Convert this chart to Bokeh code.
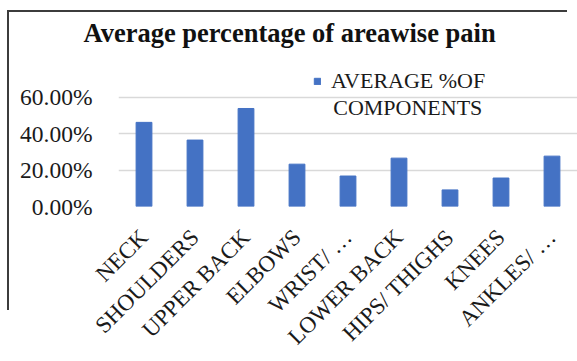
import math

from bokeh.embed import file_html
from bokeh.models import (ColumnDataSource, FactorRange, FixedTicker, InlineStyleSheet,
                          Label, Legend, LegendItem, NumeralTickFormatter, Range1d)
from bokeh.plotting import figure
from bokeh.resources import INLINE

# Body areas and the average share of reported pain for each
areas = ["NECK", "SHOULDERS", "UPPER BACK", "ELBOWS", "WRIST/ \u2026",
         "LOWER BACK", "HIPS/ THIGHS", "KNEES", "ANKLES/ \u2026"]
avg_pct = [0.461, 0.364, 0.537, 0.232, 0.167, 0.265, 0.091, 0.156, 0.276]
y_ticks = [0.0, 0.2, 0.4, 0.6]
title_text = "Average percentage of areawise pain"
series_line1 = "AVERAGE %OF"
series_line2 = "COMPONENTS"

SERIF = "Liberation Serif"
BAR_BLUE = "#4472C4"
TEXT = "#1a1a1a"

src = ColumnDataSource(data=dict(area=areas, pct=avg_pct))

p = figure(width=577, height=361,
           x_range=FactorRange(factors=areas, range_padding=0),
           y_range=Range1d(0, 0.8),
           output_backend="svg", toolbar_location=None,
           min_border_left=118, min_border_right=0,
           min_border_top=60, min_border_bottom=154)
p.background_fill_color = "white"
p.border_fill_color = "white"
p.outline_line_color = None

# Title placed over the whole chart area
p.title.text = title_text
p.title.align = "left"
p.title.offset = -35
p.title.standoff = 25
p.title.text_font = SERIF
p.title.text_font_size = "26.5px"
p.title.text_font_style = "bold"
p.title.text_color = "#111111"

bars = p.vbar(x="area", top="pct", width=0.31, source=src,
              fill_color=BAR_BLUE, line_color=BAR_BLUE)

# Axes: no lines or ticks, serif labels
p.yaxis.ticker = FixedTicker(ticks=y_ticks)
p.yaxis.formatter = NumeralTickFormatter(format="0.00%")
for ax in (p.xaxis, p.yaxis):
    ax.axis_line_color = None
    ax.major_tick_line_color = None
    ax.minor_tick_line_color = None
    ax.major_tick_out = 0
    ax.major_tick_in = 0
    ax.major_label_text_font = SERIF
    ax.major_label_text_color = TEXT
p.yaxis.major_label_text_font_size = "23.5px"
p.xaxis.major_label_text_font_size = "23px"
p.yaxis.major_label_standoff = 26
p.xaxis.major_label_orientation = math.pi / 4
p.xaxis.major_label_standoff = 27

p.xgrid.grid_line_color = None
p.ygrid.grid_line_color = "#d9d9d9"
p.ygrid.grid_line_width = 1.5

# Series key: square marker with a two-line name
legend = Legend(items=[LegendItem(label=series_line1, renderers=[bars])],
                location=(195, 112), orientation="vertical",
                background_fill_alpha=0, border_line_color=None,
                padding=0, margin=0, glyph_width=8, glyph_height=8,
                label_standoff=10, label_height=24, label_text_font=SERIF,
                label_text_font_size="22px", label_text_color=TEXT)
p.add_layout(legend, "center")
p.add_layout(Label(x=4.21, y=0.545, text=series_line2,
                   text_baseline="alphabetic", text_align="left",
                   text_font=SERIF, text_font_size="22px", text_color=TEXT))

# Chart-area border along the top and left
p.stylesheets = [InlineStyleSheet(css="""
:host { overflow: hidden; }
:host::before, :host::after {
  content: "";
  position: absolute;
  background: #3c3c3c;
  pointer-events: none;
  z-index: 10;
}
:host::before { left: 7px; top: 10px; width: 560px; height: 2px; }
:host::after  { left: 7px; top: 10px; width: 2px; height: 300px; }
""")]

open("out.html", "w").write(file_html(p, INLINE))
